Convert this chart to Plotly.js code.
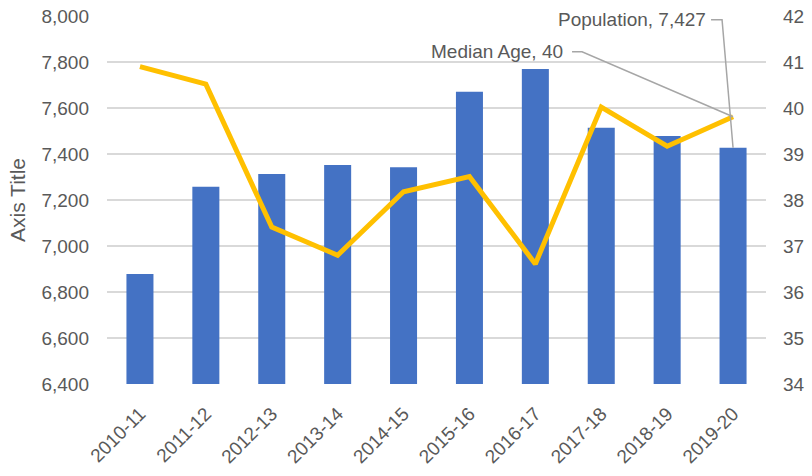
<!DOCTYPE html>
<html>
<head>
<meta charset="utf-8">
<script src="https://cdn.plot.ly/plotly-3.0.1.min.js"></script>
<style>
html,body{margin:0;padding:0;background:#fff;}
#chart{width:812px;height:476px;}
</style>
</head>
<body>
<div id="chart"></div>
<script>
const categories = ['2010-11','2011-12','2012-13','2013-14','2014-15','2015-16','2016-17','2017-18','2018-19','2019-20'];
const population = [6878, 7258, 7313, 7352, 7342, 7671, 7770, 7514, 7478, 7427];
const medianAge = [40.9, 40.52, 37.41, 36.8, 38.18, 38.51, 36.61, 40.02, 39.17, 39.81];
const leftTicks = [6400, 6600, 6800, 7000, 7200, 7400, 7600, 7800, 8000];
const rightTicks = [34, 35, 36, 37, 38, 39, 40, 41, 42];

const FONT = 'Liberation Sans, Arial, sans-serif';
const TXT = '#595959';
const last = categories.length - 1;

const traces = [
  {
    type: 'bar', name: 'Population', x: categories, y: population,
    marker: {color: '#4472C4'}, yaxis: 'y', hoverinfo: 'x+y'
  },
  {
    type: 'scatter', mode: 'lines', name: 'Median Age', x: categories, y: medianAge,
    line: {color: '#FFC000', width: 5}, yaxis: 'y2'
  }
];

const layout = {
  width: 812, height: 476,
  margin: {l: 107, r: 46, t: 16, b: 92},
  paper_bgcolor: '#fff', plot_bgcolor: '#fff',
  showlegend: false,
  bargap: 0.59,
  font: {family: FONT, size: 19, color: TXT},
  xaxis: {
    type: 'category', tickangle: -45, showgrid: false, showline: false, zeroline: false,
    ticks: '', ticklabelstandoff: 14, tickfont: {family: FONT, size: 19, color: TXT}, automargin: false
  },
  yaxis: {
    range: [6400, 8000], tickvals: leftTicks, tickformat: ',d',
    showgrid: true, gridcolor: '#D9D9D9', gridwidth: 1.5, zeroline: false, showline: false,
    ticks: '', ticklabelstandoff: 17, tickfont: {family: FONT, size: 19, color: TXT},
    title: {text: 'Axis Title', font: {family: FONT, size: 21, color: TXT}, standoff: 10},
    automargin: false
  },
  yaxis2: {
    range: [34, 42], tickvals: rightTicks, overlaying: 'y', side: 'right',
    showgrid: false, zeroline: false, showline: false, ticks: '', ticklabelstandoff: 16,
    tickfont: {family: FONT, size: 19, color: TXT}, automargin: false
  },
  shapes: [
    {
      type: 'path', layer: 'above', xref: 'x', yref: 'y',
      xsizemode: 'pixel', ysizemode: 'pixel', xanchor: categories[last], yanchor: population[last],
      path: 'M -22,128 L -11,128 L 0,0', line: {color: '#A6A6A6', width: 1.5}
    },
    {
      type: 'path', layer: 'above', xref: 'x', yref: 'y2',
      xsizemode: 'pixel', ysizemode: 'pixel', xanchor: categories[last], yanchor: medianAge[last],
      path: 'M -161,65 L -151,65 L 0,0', line: {color: '#A6A6A6', width: 1.5}
    }
  ],
  annotations: [
    {
      x: categories[last], y: population[last], xref: 'x', yref: 'y',
      text: 'Population, ' + population[last].toLocaleString('en-US'),
      showarrow: true, arrowcolor: 'rgba(0,0,0,0)', arrowwidth: 0.1, arrowhead: 0,
      ax: -25, ay: -128, xanchor: 'right', yanchor: 'middle',
      font: {family: FONT, size: 19, color: TXT}
    },
    {
      x: categories[last], y: medianAge[last], xref: 'x', yref: 'y2',
      text: 'Median Age, ' + Math.round(medianAge[last]),
      showarrow: true, arrowcolor: 'rgba(0,0,0,0)', arrowwidth: 0.1, arrowhead: 0,
      ax: -168, ay: -65, xanchor: 'right', yanchor: 'middle',
      font: {family: FONT, size: 19, color: TXT}
    }
  ]
};

Plotly.newPlot('chart', traces, layout, {displayModeBar: false, staticPlot: true});
</script>
</body>
</html>
